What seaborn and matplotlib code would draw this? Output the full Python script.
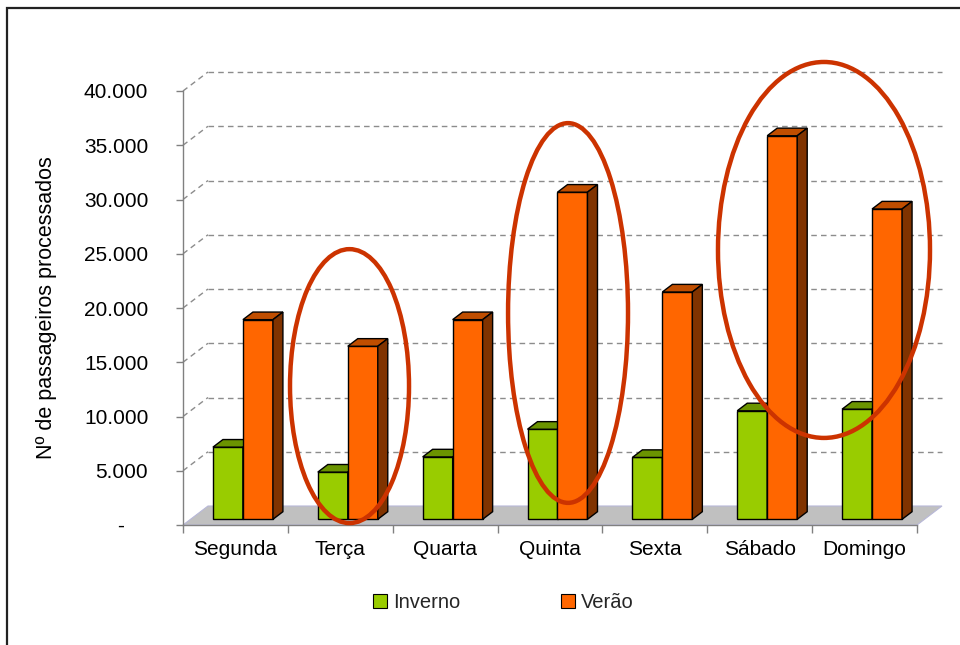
import numpy as np
import pandas as pd
import matplotlib
matplotlib.use("Agg")
import matplotlib.pyplot as plt
from matplotlib.patches import Polygon, Ellipse, Rectangle
from matplotlib.lines import Line2D
import seaborn as sns

# ---- data ----
days = ["Segunda", "Terça", "Quarta", "Quinta", "Sexta", "Sábado", "Domingo"]
inverno = [6650, 4350, 5750, 8300, 5700, 10000, 10150]
verao = [18400, 15950, 18400, 30150, 20950, 35350, 28600]
seasons = ["Inverno", "Verão"]
yticks = [0, 5000, 10000, 15000, 20000, 25000, 30000, 35000, 40000]
ytick_labels = ["-    ", "5.000", "10.000", "15.000", "20.000", "25.000", "30.000", "35.000", "40.000"]
ylabel = "Nº de passageiros processados"
# highlighted groups (center in category units, value units; width, height)
highlights = [
    (1.088, 12800, 1.135, 25250),
    (3.172, 19540, 1.144, 35000),
    (5.613, 25350, 2.022, 34650),
]

df = pd.DataFrame({
    "dia": days * 2,
    "estacao": [seasons[0]] * len(days) + [seasons[1]] * len(days),
    "passageiros": inverno + verao,
})

front = {"Inverno": "#99CC00", "Verão": "#FF6600"}
top = {"Inverno": "#6B9400", "Verão": "#C04E00"}
side = {"Inverno": "#4D6B00", "Verão": "#803300"}

sns.set_theme(style="white")
plt.rcParams["font.family"] = ["Liberation Sans", "DejaVu Sans"]

W, H = 960, 645
fig = plt.figure(figsize=(W / 100, H / 100), dpi=100)
L, R, B, T = 183, 917, 525, 91
ax = fig.add_axes([L / W, (H - B) / H, (R - L) / W, (B - T) / H])

sns.barplot(data=df, x="dia", y="passageiros", hue="estacao", order=days,
            hue_order=seasons, palette=[front[s] for s in seasons],
            saturation=1, width=0.572, dodge=True, edgecolor="black",
            linewidth=1.0, legend=False, ax=ax)
bars = list(ax.patches)

ax.set_xlim(-0.5, 6.5)
ax.set_ylim(0, 40000)

# depth in data units (25 px right, 19 px up)
ddx = 25 / ((R - L) / 7)
ddy = 19 / (B - T) * 40000
f0, fd = 0.3, 0.4

# back wall gridlines
for v in yticks[1:]:
    ax.plot([-0.5 + ddx, 6.5 + ddx], [v + ddy, v + ddy], ls=(0, (4, 3)),
            color="#8C8C8C", lw=1, zorder=0.5, clip_on=False)
    ax.plot([-0.5, -0.5 + ddx], [v, v + ddy], ls=(0, (4, 3)),
            color="#8C8C8C", lw=1, zorder=0.5, clip_on=False)

# floor
floor = Polygon([(-0.5, 0), (6.5, 0), (6.5 + ddx, ddy), (-0.5 + ddx, ddy)],
                closed=True, facecolor="#C0C0C0", edgecolor="#B8B8D8", lw=0.8,
                zorder=1, clip_on=False)
ax.add_patch(floor)

# 3D faces for bars
n = len(days)
for i, bar in enumerate(bars):
    s = seasons[0] if i < n else seasons[1]
    z = 3 if s == seasons[0] else 4
    x0 = bar.get_x() + f0 * ddx
    w = bar.get_width()
    h = bar.get_height()
    y0 = f0 * ddy
    bar.set_x(x0)
    bar.set_y(y0)
    bar.set_zorder(z)
    bar.set_clip_on(False)
    x1, y1 = x0 + w, y0 + h
    tdx, tdy = fd * ddx, fd * ddy
    ax.add_patch(Polygon([(x0, y1), (x1, y1), (x1 + tdx, y1 + tdy), (x0 + tdx, y1 + tdy)],
                         closed=True, facecolor=top[s], edgecolor="black", lw=1.0,
                         zorder=z, clip_on=False))
    ax.add_patch(Polygon([(x1, y0), (x1 + tdx, y0 + tdy), (x1 + tdx, y1 + tdy), (x1, y1)],
                         closed=True, facecolor=side[s], edgecolor="black", lw=1.0,
                         zorder=z, clip_on=False))

# highlight ellipses
for cx, cy, ew, eh in highlights:
    ax.add_patch(Ellipse((cx, cy), ew, eh, fill=False, edgecolor="#CC3300",
                         lw=3.2, zorder=10, clip_on=False))

# axes styling
for sp in ["top", "right"]:
    ax.spines[sp].set_visible(False)
for sp in ["left", "bottom"]:
    ax.spines[sp].set_color("#808080")
    ax.spines[sp].set_linewidth(1.0)
ax.set_yticks(yticks)
ax.set_yticklabels(ytick_labels)
ax.tick_params(axis="y", which="major", left=True, length=5, width=1,
               color="#808080", labelsize=15, pad=20, labelcolor="black")
ax.set_xticks(range(n))
ax.set_xticklabels(days)
ax.tick_params(axis="x", which="major", bottom=True, length=0, labelsize=15,
               pad=11, labelcolor="black")
ax.set_xticks(np.arange(-0.5, n, 1.0), minor=True)
ax.tick_params(axis="x", which="minor", bottom=True, length=6, width=1,
               color="#808080")
ax.set_xlabel("")
ax.set_ylabel(ylabel, fontsize=15.5, color="black", va="center")
ax.yaxis.set_label_coords((46 - L) / (R - L), 0.5)
ax.grid(False)
ax.set_facecolor("none")

# legend
handles = [Line2D([0], [0], marker="s", ls="none", markersize=10,
                  markerfacecolor=front[s], markeredgecolor="black",
                  markeredgewidth=0.8, label=s) for s in seasons]
fig.legend(handles=handles, loc="center", bbox_to_anchor=(503 / W, (H - 603) / H),
           ncol=2, frameon=False, fontsize=14.5, handlelength=0.7,
           handletextpad=0.3, columnspacing=5.0)

# outer frame
fig.patches.append(Rectangle((7 / W, -0.02), 1.0, (H - 8) / H + 0.02,
                             transform=fig.transFigure, fill=False,
                             edgecolor="#222222", lw=1.6, zorder=20))

fig.savefig("out.png", dpi=100)
